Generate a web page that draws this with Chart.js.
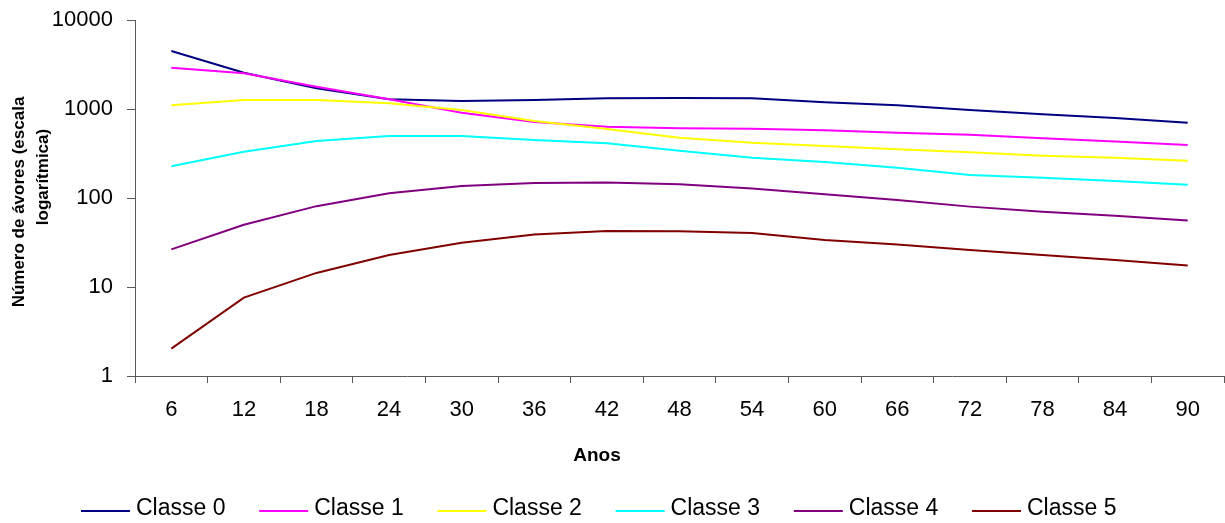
<!DOCTYPE html>
<html>
<head>
<meta charset="utf-8">
<script src="https://cdn.jsdelivr.net/npm/chart.js@4/dist/chart.umd.min.js"></script>
<style>
  html, body { margin: 0; padding: 0; background: #fff; }
  canvas { display: block; }
</style>
</head>
<body>
<canvas id="grafico" width="1225" height="523"></canvas>
<script>
// Anos de simulação (eixo X)
const anos = ['6', '12', '18', '24', '30', '36', '42', '48', '54', '60', '66', '72', '78', '84', '90'];

// Número de árvores por classe diamétrica
const classe0 = [4490, 2560, 1710, 1285, 1230, 1262, 1320, 1330, 1320, 1190, 1100, 975, 872, 792, 702];
const classe1 = [2910, 2520, 1780, 1285, 908, 714, 632, 607, 601, 576, 542, 515, 469, 430, 394];
const classe2 = [1100, 1262, 1262, 1160, 975, 733, 596, 476, 418, 384, 353, 326, 299, 284, 262];
const classe3 = [227, 331, 437, 497, 497, 448, 411, 340, 284, 254, 219, 181, 169, 155, 141];
const classe4 = [26.5, 50, 81, 113, 136, 147, 149, 143, 128, 110, 95, 80, 70, 63, 56];
const classe5 = [2.03, 7.6, 14.4, 22.9, 31.5, 39, 42.6, 42.2, 40.4, 33.7, 30.1, 26, 22.9, 20.1, 17.4];

const nomesClasses = ['Classe 0', 'Classe 1', 'Classe 2', 'Classe 3', 'Classe 4', 'Classe 5'];
const coresClasses = ['#000080', '#FF00FF', '#FFFF00', '#00FFFF', '#800080', '#800000'];

// Marcas do eixo Y (escala logarítmica)
const ticksY = [1, 10, 100, 1000, 10000];

const tituloY = ['Número de ávores (escala', 'logarítmica)'];
const tituloX = 'Anos';

const fonte = '"Liberation Sans", Arial, sans-serif';
const corEixo = '#5a5a5a';

const series = [classe0, classe1, classe2, classe3, classe4, classe5];
const datasets = series.map((valores, i) => ({
  label: nomesClasses[i],
  data: valores,
  borderColor: coresClasses[i],
  backgroundColor: coresClasses[i],
  borderWidth: 2,
  pointRadius: 0,
  tension: 0,
  fill: false,
  order: -i
}));

// Títulos dos eixos e legenda desenhados à mão
const decoracao = {
  id: 'decoracao',
  afterDraw(chart) {
    const ctx = chart.ctx;
    ctx.save();
    ctx.fillStyle = '#000';
    ctx.textBaseline = 'middle';
    ctx.textAlign = 'center';

    // título do eixo Y, em duas linhas giradas
    ctx.font = 'bold 17px ' + fonte;
    const linhasY = [[19, 202], [43, 177]];
    tituloY.forEach((txt, k) => {
      ctx.save();
      ctx.translate(linhasY[k][0], linhasY[k][1]);
      ctx.rotate(-Math.PI / 2);
      ctx.fillText(txt, 0, 0);
      ctx.restore();
    });

    // título do eixo X
    ctx.font = 'bold 19px ' + fonte;
    ctx.fillText(tituloX, 597, 456);

    // legenda
    ctx.font = '23px ' + fonte;
    ctx.textAlign = 'left';
    const inicio = 81, passo = 178.2, tamLinha = 49;
    chart.data.datasets.forEach((ds, i) => {
      const x0 = inicio + i * passo;
      ctx.strokeStyle = ds.borderColor;
      ctx.lineWidth = 2;
      ctx.beginPath();
      ctx.moveTo(x0, 511);
      ctx.lineTo(x0 + tamLinha, 511);
      ctx.stroke();
      ctx.fillText(ds.label, x0 + tamLinha + 6, 509);
    });
    ctx.restore();
  }
};

new Chart(document.getElementById('grafico'), {
  type: 'line',
  data: { labels: anos, datasets },
  options: {
    responsive: false,
    animation: false,
    devicePixelRatio: 1,
    layout: { padding: { top: 20, right: 1, left: 0, bottom: 0 } },
    plugins: {
      legend: { display: false },
      tooltip: { enabled: false },
      title: { display: false }
    },
    scales: {
      x: {
        type: 'category',
        offset: true,
        grid: {
          offset: true,
          drawOnChartArea: false,
          drawTicks: true,
          tickLength: 7,
          color: corEixo
        },
        border: { color: corEixo, width: 1 },
        ticks: {
          color: '#000',
          font: { family: fonte, size: 22 },
          padding: 14,
          maxRotation: 0,
          autoSkip: false
        },
        afterFit(scale) {
          scale.height = 147;
          scale.paddingLeft = 0;
          scale.paddingRight = 0;
        }
      },
      y: {
        type: 'logarithmic',
        min: 1,
        max: 10000,
        afterBuildTicks(scale) {
          scale.ticks = ticksY.map(v => ({ value: v }));
        },
        grid: {
          drawOnChartArea: false,
          drawTicks: true,
          tickLength: 8,
          color: corEixo
        },
        border: { color: corEixo, width: 1 },
        ticks: {
          color: '#000',
          font: { family: fonte, size: 22 },
          padding: 14,
          callback: (v) => String(v)
        },
        afterFit(scale) {
          scale.width = 135;
          scale.paddingTop = 0;
          scale.paddingBottom = 0;
        }
      }
    }
  },
  plugins: [decoracao]
});
</script>
</body>
</html>
